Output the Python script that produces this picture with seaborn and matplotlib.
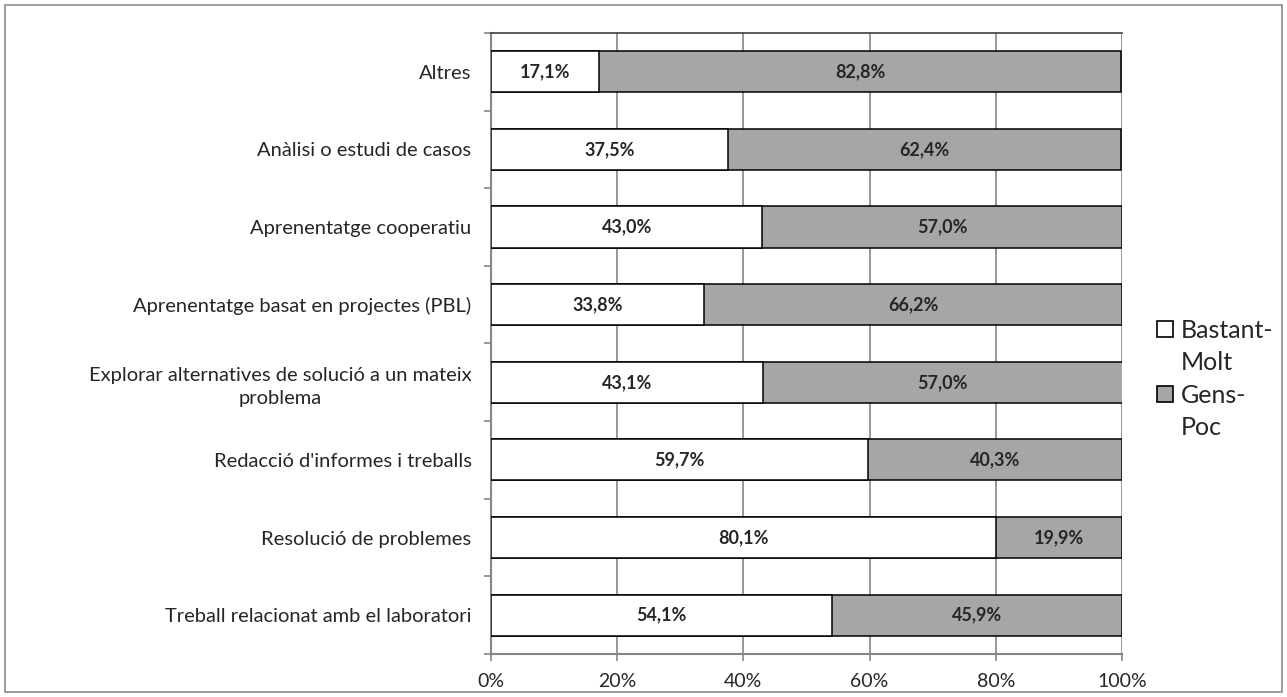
import matplotlib
matplotlib.use("Agg")
import matplotlib.pyplot as plt
import seaborn as sns
import pandas as pd
from matplotlib.patches import Rectangle, Patch

categories = [
    "Altres",
    "Anàlisi o estudi de casos",
    "Aprenentatge cooperatiu",
    "Aprenentatge basat en projectes (PBL)",
    "Explorar alternatives de solució a un mateix\nproblema",
    "Redacció d'informes i treballs",
    "Resolució de problemes",
    "Treball relacionat amb el laboratori",
]
bastant_molt = [17.1, 37.5, 43.0, 33.8, 43.1, 59.7, 80.1, 54.1]
gens_poc = [82.8, 62.4, 57.0, 66.2, 57.0, 40.3, 19.9, 45.9]
series_names = ["Bastant-\nMolt", "Gens-\nPoc"]
x_ticks = [0, 20, 40, 60, 80, 100]

sns.set_theme(style="white")
plt.rcParams["font.family"] = ["Lato", "DejaVu Sans"]

df = pd.DataFrame({
    "cat": categories,
    "bm": bastant_molt,
    "gp": gens_poc,
})
df["total"] = df["bm"] + df["gp"]

fig = plt.figure(figsize=(12.87, 6.97), dpi=100)
ax = fig.add_axes([0.3815, 0.0617, 0.8718 - 0.3815, 0.9527 - 0.0617])

white_c = "#ffffff"
gray_c = "#a6a6a6"

sns.barplot(data=df, y="cat", x="total", orient="h", color=gray_c,
            edgecolor="black", linewidth=1.1, width=0.53, ax=ax, saturation=1, zorder=3)
sns.barplot(data=df, y="cat", x="bm", orient="h", color=white_c,
            edgecolor="black", linewidth=1.1, width=0.53, ax=ax, saturation=1, zorder=4)

ax.set_xlim(0, 100)
ax.set_ylim(len(categories) - 0.5, -0.5)
ax.set_xlabel("")
ax.set_ylabel("")

# data labels
for i, (b, g) in enumerate(zip(bastant_molt, gens_poc)):
    ax.text(b / 2, i, f"{b:.1f}%".replace(".", ","), ha="center", va="center",
            fontsize=13, fontweight="bold", zorder=5)
    ax.text(b + g / 2, i, f"{g:.1f}%".replace(".", ","), ha="center", va="center",
            fontsize=13, fontweight="bold", zorder=5)

ax.set_xticks(x_ticks)
ax.set_xticklabels([f"{t}%" for t in x_ticks], fontsize=14)
ax.xaxis.grid(True, color="#868686", linewidth=1.2, zorder=0)
ax.set_axisbelow(True)

# y ticks: labels at centers, tick marks at boundaries
ax.set_yticks(range(len(categories)))
ax.set_yticklabels(categories, fontsize=14.5, multialignment="center", linespacing=1.45)
ax.tick_params(axis="y", length=0, pad=14)
ax.set_yticks([i - 0.5 for i in range(len(categories) + 1)], minor=True)
ax.tick_params(axis="y", which="minor", length=5, color="#868686", width=1.2, left=True)
ax.tick_params(axis="x", length=5, color="#868686", width=1.2, bottom=True, pad=9)

for side in ["left", "bottom"]:
    ax.spines[side].set_color("#868686")
    ax.spines[side].set_linewidth(1.5)
ax.spines["top"].set_color("#404040")
ax.spines["top"].set_linewidth(1.2)
ax.spines["right"].set_visible(False)

blank = Patch(facecolor="none", edgecolor="none")
handles = [Patch(facecolor=white_c, edgecolor="black", linewidth=1.2), blank,
           Patch(facecolor=gray_c, edgecolor="black", linewidth=1.2), blank]
labels = [series_names[0].split("\n")[0], series_names[0].split("\n")[1],
          series_names[1].split("\n")[0], series_names[1].split("\n")[1]]
fig.legend(handles, labels, loc="center left", bbox_to_anchor=(0.889, 0.456),
           frameon=False, fontsize=18, handlelength=0.65, handleheight=0.65,
           handletextpad=0.3, labelspacing=0.38, borderpad=0)

fig.patches.append(Rectangle((0.004, 0.007), 0.992, 0.986, transform=fig.transFigure,
                             fill=False, edgecolor="#8c8c8c", linewidth=1.2))

fig.savefig("out.png", dpi=100)
